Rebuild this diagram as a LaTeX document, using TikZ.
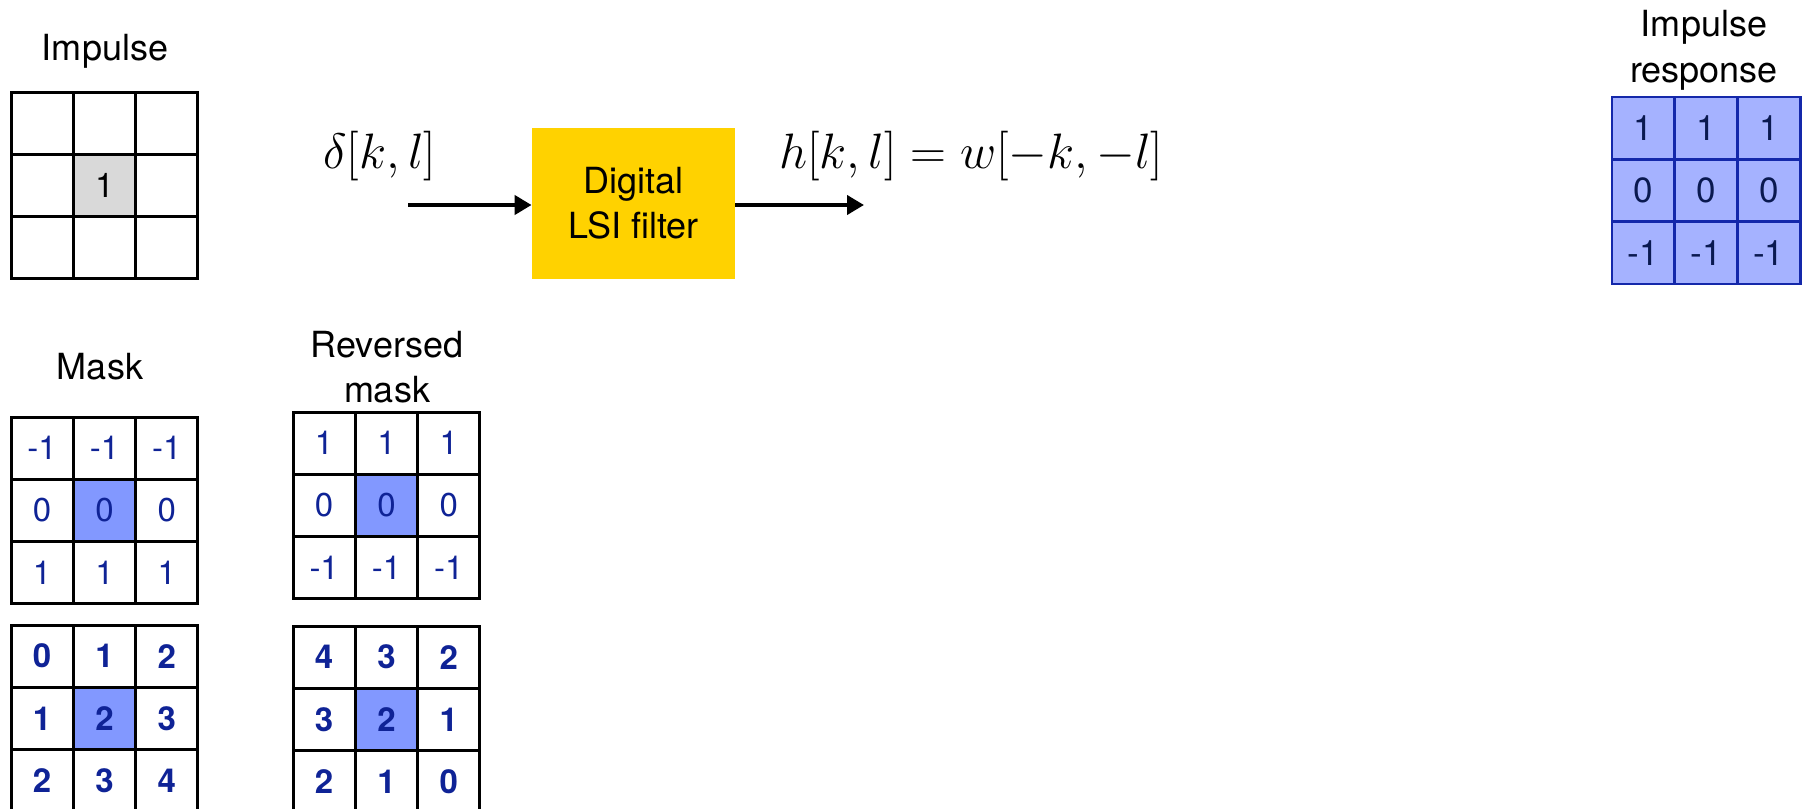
\documentclass[tikz,border=0pt]{standalone}
\usepackage{fontspec}
\setmainfont{TeX Gyre Heros}
\usetikzlibrary{arrows.meta}
\definecolor{maskblue}{RGB}{15,35,150}
\definecolor{cellfill}{RGB}{130,152,255}
\definecolor{irfill}{RGB}{165,178,255}
\definecolor{irline}{RGB}{20,40,170}
\definecolor{irtext}{RGB}{10,25,80}
\definecolor{lsiyellow}{RGB}{255,210,0}
\definecolor{impgray}{RGB}{217,217,217}
\begin{document}
\begin{tikzpicture}[x=0.5pt,y=-0.5pt,
  cell/.style={draw=black, line width=1.5pt, minimum width=31.15pt, minimum height=31.15pt,
    inner sep=0pt, font=\fontsize{16.5}{19}\selectfont, text=maskblue},
  boldcell/.style={cell, font=\fontsize{16.5}{19}\selectfont\bfseries},
  impcell/.style={cell, text=black, font=\fontsize{17}{20}\selectfont},
  ircell/.style={draw=irline, fill=irfill, line width=1.4pt, minimum width=31.35pt,
    minimum height=31.15pt, inner sep=0pt, text=irtext, font=\fontsize{17.5}{20}\selectfont},
  label/.style={inner sep=0pt, font=\fontsize{18}{22.5}\selectfont, align=center},
  mathlbl/.style={inner sep=0pt, font=\fontsize{26}{30}\selectfont},
  lsibox/.style={fill=lsiyellow, minimum width=101.5pt, minimum height=75.5pt, inner sep=0pt,
    align=center, font=\fontsize{18}{22.5}\selectfont},
  flow/.style={line width=2pt, -{Triangle[length=8.5pt,width=9.5pt]}}]
\useasboundingbox (0,0) rectangle (1802,808);

% Impulse grid
\node[label, anchor=base] (implbl) at (105,61) {Impulse};
\foreach \v/\f [count=\i from 0] in {/white,/white,/white,/white,1/impgray,/white,/white,/white,/white} {
  \pgfmathtruncatemacro\r{\i/3}
  \pgfmathtruncatemacro\c{mod(\i,3)}
  \node[impcell, fill=\f] (imp-\r-\c) at ({11+62.33*(\c+0.5)},{92+62.33*(\r+0.5)}) {\v};
}

% Mask grid
\node[label, anchor=base] (masklbl) at (100,379) {Mask};
\foreach \v/\f [count=\i from 0] in {-1/white,-1/white,-1/white,0/white,0/cellfill,0/white,1/white,1/white,1/white} {
  \pgfmathtruncatemacro\r{\i/3}
  \pgfmathtruncatemacro\c{mod(\i,3)}
  \node[cell, fill=\f] (m-\r-\c) at ({11+62.33*(\c+0.5)},{417+62.33*(\r+0.5)}) {\v};
}

% Reversed mask grid
\node[label] (revlbl) at (387,367) {Reversed\\mask};
\foreach \v/\f [count=\i from 0] in {1/white,1/white,1/white,0/white,0/cellfill,0/white,-1/white,-1/white,-1/white} {
  \pgfmathtruncatemacro\r{\i/3}
  \pgfmathtruncatemacro\c{mod(\i,3)}
  \node[cell, fill=\f] (rm-\r-\c) at ({293+62.33*(\c+0.5)},{412+62.33*(\r+0.5)}) {\v};
}

% Mask index grid
\foreach \v/\f [count=\i from 0] in {0/white,1/white,2/white,1/white,2/cellfill,3/white,2/white,3/white,4/white} {
  \pgfmathtruncatemacro\r{\i/3}
  \pgfmathtruncatemacro\c{mod(\i,3)}
  \node[boldcell, fill=\f] (mi-\r-\c) at ({11+62.33*(\c+0.5)},{625+62.33*(\r+0.5)}) {\v};
}

% Reversed index grid
\foreach \v/\f [count=\i from 0] in {4/white,3/white,2/white,3/white,2/cellfill,1/white,2/white,1/white,0/white} {
  \pgfmathtruncatemacro\r{\i/3}
  \pgfmathtruncatemacro\c{mod(\i,3)}
  \node[boldcell, fill=\f] (ri-\r-\c) at ({293+62.33*(\c+0.5)},{626+62.33*(\r+0.5)}) {\v};
}

% Impulse response grid
\node[label, font=\fontsize{18}{23}\selectfont] (irlbl) at (1704,50) {Impulse\\response};
\foreach \v [count=\i from 0] in {1,1,1,0,0,0,-1,-1,-1} {
  \pgfmathtruncatemacro\r{\i/3}
  \pgfmathtruncatemacro\c{mod(\i,3)}
  \node[ircell] (ir-\r-\c) at ({1612+62.7*(\c+0.5)},{97+62.33*(\r+0.5)}) {\v};
}

% Filter block
\node[lsibox] (lsi) at (633.5,203.5) {Digital\\LSI filter};
\coordinate (inp) at (408,205);
\coordinate (outp) at (864,205);
\draw[flow] (inp) -- (inp -| lsi.west);
\draw[flow] (outp -| lsi.east) -- (outp);
\node[mathlbl, anchor=base west] (delta) at (323,168) {$\delta[k,l]$};
\node[mathlbl, anchor=base west] (hkl) at (779,168) {$h[k,l] = w[-k,-l]$};
\end{tikzpicture}
\end{document}
